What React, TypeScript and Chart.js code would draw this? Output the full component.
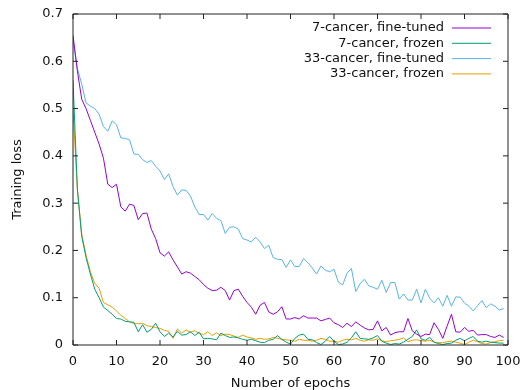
import React, { useEffect, useRef } from "react";
import { Chart, registerables } from "chart.js";

Chart.register(...registerables);

// Epoch index for each recorded value (0 .. 99)
const epochs: number[] = Array.from({ length: 100 }, (_, i) => i);

const xTicks: number[] = [0, 10, 20, 30, 40, 50, 60, 70, 80, 90, 100];
const yTicks: number[] = [0, 0.1, 0.2, 0.3, 0.4, 0.5, 0.6, 0.7];

const seriesLabels: string[] = [
  "7-cancer, fine-tuned",
  "7-cancer, frozen",
  "33-cancer, fine-tuned",
  "33-cancer, frozen",
];
const seriesColors: string[] = ["#9400d3", "#009e73", "#56b4e9", "#e69f00"];

const fineTuned7: number[] = [
  0.655, 0.58, 0.52, 0.5, 0.475, 0.45, 0.425, 0.395, 0.34, 0.333,
  0.34, 0.292, 0.283, 0.298, 0.295, 0.265, 0.278, 0.279, 0.245, 0.225,
  0.195, 0.188, 0.197, 0.18, 0.165, 0.15, 0.155, 0.152, 0.145, 0.138,
  0.128, 0.12, 0.115, 0.116, 0.122, 0.115, 0.095, 0.115, 0.118, 0.103,
  0.09, 0.08, 0.065, 0.084, 0.09, 0.07, 0.065, 0.07, 0.081, 0.055,
  0.055, 0.058, 0.055, 0.062, 0.057, 0.057, 0.057, 0.051, 0.054, 0.057,
  0.047, 0.043, 0.037, 0.046, 0.039, 0.049, 0.042, 0.036, 0.032, 0.033,
  0.051, 0.03, 0.037, 0.021, 0.026, 0.028, 0.028, 0.056, 0.03, 0.023,
  0.018, 0.023, 0.022, 0.047, 0.033, 0.014, 0.04, 0.065, 0.028, 0.027,
  0.037, 0.029, 0.031, 0.021, 0.022, 0.022, 0.018, 0.016, 0.021, 0.016,
];

const frozen7: number[] = [
  0.56, 0.33, 0.23, 0.185, 0.15, 0.118, 0.1, 0.08, 0.073, 0.065,
  0.056, 0.055, 0.05, 0.049, 0.048, 0.028, 0.043, 0.027, 0.033, 0.046,
  0.028, 0.018, 0.025, 0.017, 0.029, 0.021, 0.022, 0.028, 0.02, 0.027,
  0.013, 0.014, 0.013, 0.011, 0.025, 0.02, 0.016, 0.017, 0.015, 0.012,
  0.01, 0.012, 0.009, 0.006, 0.005, 0.01, 0.012, 0.02, 0.012, 0.006,
  0.002, 0.014, 0.021, 0.023, 0.012, 0.011, 0.005, 0.001, 0.008, 0.018,
  0.008, 0.001, 0.002, 0.006, 0.015, 0.028, 0.014, 0.013, 0.012, 0.015,
  0.02, 0.008, 0.004, 0.001, 0.003, 0.002, 0.006, 0.012, 0.018, 0.032,
  0.013, 0.01, 0.016, 0.006, 0.003, 0.001, 0.003, 0.004, 0.01, 0.014,
  0.009, 0.014, 0.018, 0.008, 0.006, 0.008, 0.006, 0.005, 0.004, 0.004,
];

const fineTuned33: number[] = [
  0.645, 0.585, 0.552, 0.512, 0.505, 0.5, 0.488, 0.462, 0.452, 0.474,
  0.466, 0.438, 0.437, 0.434, 0.404, 0.403, 0.392, 0.386, 0.39, 0.378,
  0.368, 0.35, 0.362, 0.335, 0.317, 0.328, 0.327, 0.315, 0.292, 0.276,
  0.276, 0.264, 0.278, 0.268, 0.263, 0.236, 0.249, 0.25, 0.245, 0.225,
  0.222, 0.218, 0.228, 0.218, 0.204, 0.211, 0.185, 0.181, 0.181, 0.164,
  0.18, 0.166, 0.166, 0.183, 0.174, 0.163, 0.15, 0.167, 0.158, 0.155,
  0.16, 0.133, 0.127, 0.152, 0.162, 0.113, 0.13, 0.139, 0.125, 0.122,
  0.118, 0.137, 0.111, 0.132, 0.132, 0.097, 0.108, 0.095, 0.095, 0.118,
  0.089, 0.118, 0.099, 0.089, 0.1, 0.082, 0.105, 0.082, 0.102, 0.101,
  0.089, 0.082, 0.072, 0.083, 0.094, 0.079, 0.087, 0.082, 0.074, 0.077,
];

const frozen33: number[] = [
  0.5, 0.33, 0.235, 0.19, 0.155, 0.13, 0.12, 0.09, 0.085, 0.08,
  0.072, 0.063, 0.056, 0.049, 0.045, 0.045, 0.046, 0.041, 0.039, 0.037,
  0.035, 0.031, 0.029, 0.014, 0.034, 0.025, 0.032, 0.027, 0.03, 0.025,
  0.022, 0.028, 0.02, 0.026, 0.02, 0.023, 0.022, 0.019, 0.016, 0.021,
  0.017, 0.015, 0.012, 0.014, 0.012, 0.013, 0.016, 0.014, 0.012, 0.011,
  0.01, 0.008, 0.012, 0.01, 0.01, 0.008, 0.01, 0.014, 0.012, 0.008,
  0.008, 0.006, 0.01, 0.012, 0.011, 0.014, 0.01, 0.008, 0.011, 0.01,
  0.013, 0.009, 0.007, 0.009, 0.01, 0.012, 0.015, 0.007, 0.01, 0.011,
  0.009, 0.008, 0.01, 0.006, 0.005, 0.005, 0.007, 0.008, 0.006, 0.004,
  0.001, 0.006, 0.01, 0.007, 0.003, 0.002, 0.005, 0.007, 0.009, 0.01,
];

const seriesValues: number[][] = [fineTuned7, frozen7, fineTuned33, frozen33];

const FONT = "'DejaVu Sans', 'Noto Sans', sans-serif";

const gnuplotFrame = {
  id: "gnuplotFrame",
  afterDraw(chart: any) {
    const { ctx, chartArea } = chart;
    const { left, right, top, bottom } = chartArea;
    const xs = chart.scales.x;
    const ys = chart.scales.y;
    const tickLen = 5;
    ctx.save();
    ctx.strokeStyle = "#222";
    ctx.lineWidth = 1;
    ctx.beginPath();
    ctx.rect(left, top, right - left, bottom - top);
    xTicks.forEach((v) => {
      const px = xs.getPixelForValue(v);
      ctx.moveTo(px, bottom);
      ctx.lineTo(px, bottom - tickLen);
      ctx.moveTo(px, top);
      ctx.lineTo(px, top + tickLen);
    });
    yTicks.forEach((v) => {
      const py = ys.getPixelForValue(v);
      ctx.moveTo(left, py);
      ctx.lineTo(left + tickLen, py);
      ctx.moveTo(right, py);
      ctx.lineTo(right - tickLen, py);
    });
    ctx.stroke();

    // gnuplot-style key: right-aligned text, sample line on the right
    ctx.font = `13px ${FONT}`;
    ctx.textAlign = "right";
    ctx.textBaseline = "middle";
    const textRight = right - 64;
    const sampleStart = right - 56;
    const sampleEnd = right - 17;
    chart.data.datasets.forEach((ds: any, i: number) => {
      const yy = top + 14 + i * 15.3;
      ctx.fillStyle = "#111";
      ctx.fillText(ds.label, textRight, yy);
      ctx.strokeStyle = ds.borderColor;
      ctx.lineWidth = 1;
      ctx.beginPath();
      ctx.moveTo(sampleStart, yy);
      ctx.lineTo(sampleEnd, yy);
      ctx.stroke();
    });
    ctx.restore();
  },
};

export default function App() {
  const canvasRef = useRef<HTMLCanvasElement | null>(null);

  useEffect(() => {
    const canvas = canvasRef.current;
    if (!canvas) return;
    Chart.defaults.font.family = FONT;
    Chart.defaults.font.size = 13;
    Chart.defaults.color = "#111";

    const datasets = seriesLabels.map((label, i) => ({
      label,
      data: epochs.map((e, j) => ({ x: e, y: seriesValues[i][j] })),
      borderColor: seriesColors[i],
      backgroundColor: seriesColors[i],
      borderWidth: 1,
      pointRadius: 0,
      fill: false,
      tension: 0,
    }));

    const chart = new Chart(canvas, {
      type: "line",
      data: { datasets },
      options: {
        animation: false,
        responsive: false,
        devicePixelRatio: 1,
        layout: { padding: { top: 14, right: 18, left: 0, bottom: 0 } },
        plugins: {
          legend: { display: false },
          tooltip: { enabled: false },
        },
        scales: {
          x: {
            type: "linear",
            min: 0,
            max: 100,
            grid: { display: false, drawTicks: false },
            border: { display: false },
            afterBuildTicks: (scale: any) => {
              scale.ticks = xTicks.map((v) => ({ value: v }));
            },
            afterFit: (scale: any) => {
              scale.height = 45;
              scale.paddingLeft = 0;
              scale.paddingRight = 0;
            },
            ticks: {
              padding: 9,
              maxRotation: 0,
              autoSkip: false,
              callback: (v: any) => String(v),
            },
            title: {
              display: true,
              text: "Number of epochs",
              font: { size: 13, lineHeight: 1 },
              padding: 0,
            },
          },
          y: {
            type: "linear",
            min: 0,
            max: 0.7,
            grid: { display: false, drawTicks: false },
            border: { display: false },
            afterBuildTicks: (scale: any) => {
              scale.ticks = yTicks.map((v) => ({ value: v }));
            },
            afterFit: (scale: any) => {
              scale.width = 73;
              scale.paddingTop = 0;
              scale.paddingBottom = 0;
            },
            ticks: {
              padding: 10,
              autoSkip: false,
              callback: (v: any) => (v === 0 ? "0" : Number(v).toFixed(1)),
            },
            title: {
              display: true,
              text: "Training loss",
              font: { size: 13, lineHeight: 1.2 },
              padding: { top: 10, bottom: 0 },
            },
          },
        },
      },
      plugins: [gnuplotFrame],
    });

    return () => {
      chart.destroy();
    };
  }, []);

  return (
    <div
      style={{
        position: "fixed",
        left: 0,
        top: 0,
        width: 526,
        height: 390,
        background: "#fff",
      }}
    >
      <canvas ref={canvasRef} width={526} height={390} />
    </div>
  );
}
